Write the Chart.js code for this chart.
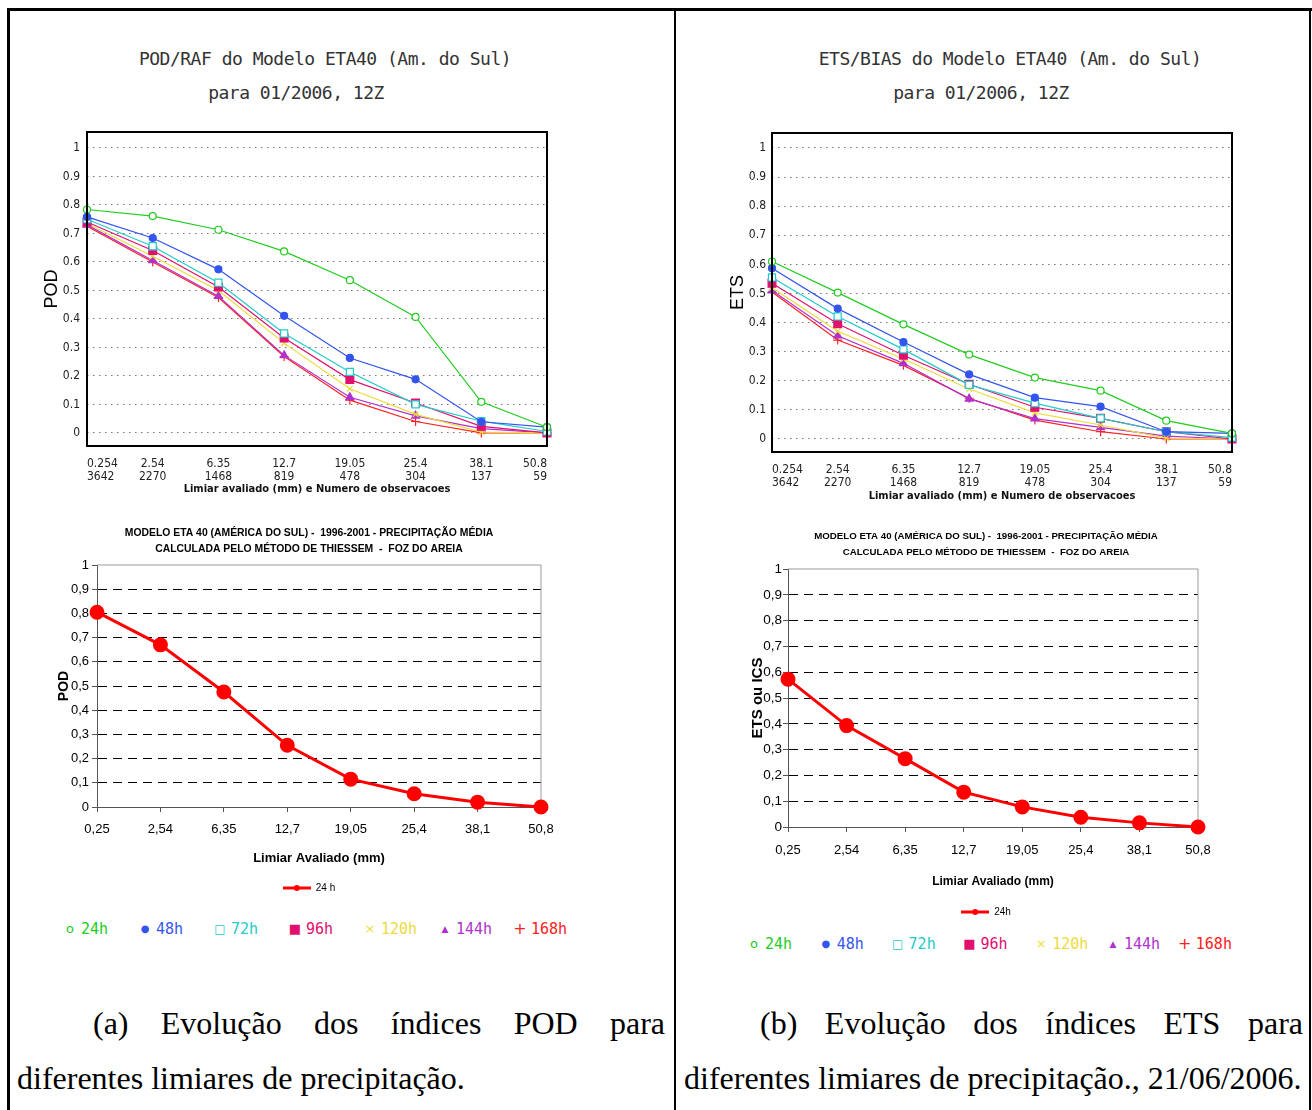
<!DOCTYPE html>
<html><head><meta charset="utf-8">
<script src="https://cdn.jsdelivr.net/npm/chart.js@4.4.1/dist/chart.umd.min.js"></script>
<style>
html,body{margin:0;padding:0;background:#fff;}
body{width:1312px;height:1110px;overflow:hidden;position:relative;}
canvas{position:absolute;}
.line{position:absolute;background:#000;}
.ttl{position:absolute;font-family:"DejaVu Sans Mono",monospace;font-size:18px;letter-spacing:-0.5px;color:#333;white-space:pre;transform:translateX(-50%);line-height:20px;}
.cap{position:absolute;font-family:"Liberation Serif","Times New Roman",serif;font-size:32px;line-height:40px;color:#000;white-space:nowrap;}
.just{text-align:justify;text-align-last:justify;white-space:normal;}
.lg{position:absolute;font-family:"DejaVu Sans Mono",monospace;font-size:15px;line-height:18px;white-space:pre;}
.sym{position:absolute;font-family:"DejaVu Sans",sans-serif;line-height:18px;white-space:pre;transform:translateX(-50%);}
</style></head><body>

<div class="line" style="left:7px;top:8px;width:1305px;height:3px"></div>
<div class="line" style="left:7px;top:8px;width:3px;height:1102px"></div>
<div class="line" style="left:674px;top:8px;width:2px;height:1102px"></div>
<div class="line" style="left:1309px;top:8px;width:2px;height:1102px"></div>

<div class="ttl" style="left:325px;top:49px">POD/RAF do Modelo ETA40 (Am. do Sul)</div>
<div class="ttl" style="left:296px;top:83px">para 01/2006, 12Z</div>
<div class="ttl" style="left:1010px;top:49px">ETS/BIAS do Modelo ETA40 (Am. do Sul)</div>
<div class="ttl" style="left:981px;top:83px">para 01/2006, 12Z</div>

<canvas id="podTop" width="550" height="388" style="left:20px;top:112px"></canvas>
<canvas id="etsTop" width="560" height="392" style="left:700px;top:113px"></canvas>
<canvas id="podBottom" width="538" height="383" style="left:40px;top:520px"></canvas>
<canvas id="etsBottom" width="512" height="407" style="left:730px;top:520px"></canvas>

<div id="legA"></div>
<div id="legB"></div>

<div class="cap just" style="left:93px;top:1003px;width:572px">(a) Evolução dos índices POD para</div>
<div class="cap" style="left:17px;top:1058px">diferentes limiares de precipitação.</div>
<div class="cap just" style="left:760px;top:1003px;width:543px">(b) Evolução dos índices ETS para</div>
<div class="cap" style="left:684px;top:1058px">diferentes limiares de precipitação., 21/06/2006.</div>

<script>
// ---------- data ----------
const thresholds = ['0.254','2.54','6.35','12.7','19.05','25.4','38.1','50.8'];
const observations = ['3642','2270','1468','819','478','304','137','59'];
const thresholdsComma = ['0,25','2,54','6,35','12,7','19,05','25,4','38,1','50,8'];
const leadTimes = ['24h','48h','72h','96h','120h','144h','168h'];
const yTickValues = [0,0.1,0.2,0.3,0.4,0.5,0.6,0.7,0.8,0.9,1];

const pod24  = [0.784,0.761,0.713,0.637,0.536,0.407,0.109,0.020];
const pod48  = [0.758,0.684,0.574,0.411,0.263,0.188,0.039,0.020];
const pod72  = [0.750,0.655,0.527,0.349,0.214,0.100,0.041,0.005];
const pod96  = [0.740,0.640,0.512,0.333,0.187,0.105,0.023,0.000];
const pod120 = [0.735,0.620,0.500,0.315,0.155,0.065,0.003,0.000];
const pod144 = [0.730,0.605,0.480,0.272,0.125,0.060,0.015,0.000];
const pod168 = [0.725,0.600,0.475,0.268,0.115,0.040,0.000,0.000];

const ets24  = [0.610,0.503,0.394,0.290,0.211,0.166,0.063,0.019];
const ets48  = [0.587,0.448,0.333,0.222,0.142,0.111,0.025,0.019];
const ets72  = [0.555,0.421,0.308,0.186,0.123,0.071,0.025,0.005];
const ets96  = [0.535,0.396,0.288,0.188,0.109,0.071,0.025,0.000];
const ets120 = [0.520,0.370,0.275,0.172,0.090,0.048,0.003,0.000];
const ets144 = [0.510,0.355,0.260,0.138,0.070,0.040,0.010,0.000];
const ets168 = [0.505,0.340,0.253,0.140,0.065,0.025,0.000,0.000];

const podMean24 = [0.805,0.670,0.475,0.255,0.115,0.055,0.020,0.000];
const etsMean24 = [0.573,0.393,0.265,0.135,0.078,0.038,0.016,0.000];

const xTitleTop = 'Limiar avaliado (mm) e Numero de observacoes';
const xTitleBottom = 'Limiar Avaliado (mm)';
const bottomTitle = ['MODELO ETA 40 (AMÉRICA DO SUL) -  1996-2001 - PRECIPITAÇÃO MÉDIA',
                     'CALCULADA PELO MÉTODO DE THIESSEM  -  FOZ DO AREIA'];

// ---------- styles ----------
const seriesColors = ['#22cc22','#3355ee','#22cccc','#e0106e','#ecdc3c','#b030d0','#ff2020'];
const markerStyles = ['circle','circle','rect','rect','crossRot','triangle','cross'];
const markerRadii  = [3.5,3.5,5,5.5,4,4.5,4.5];
const markerHollow = [true,false,true,false,false,false,false];
const legendSymbols = ['o','●','□','■','×','▲','+'];
const legendSymSize = [13,10,12,13,13,9,16];

const NARROW = '"Liberation Sans Narrow","DejaVu Sans Condensed","Liberation Sans",sans-serif';
const CONDB = '"DejaVu Sans Condensed","Liberation Sans Narrow","DejaVu Sans",sans-serif';
const ARIAL = '"Liberation Sans",Arial,sans-serif';
Chart.defaults.font.family = ARIAL;

const framePlugin = {
  id: 'frame',
  beforeDatasetsDraw(chart, args, o) { if (o.layer === 'before') drawFrame(chart, o); },
  afterDatasetsDraw(chart, args, o) { if (o.layer === 'after') drawFrame(chart, o); }
};
function drawFrame(chart, o) {
  const {ctx, chartArea: a} = chart;
  ctx.save();
  ctx.strokeStyle = o.color; ctx.lineWidth = o.width; ctx.setLineDash([]);
  ctx.beginPath();
  if (o.sides.includes('top'))    { ctx.moveTo(a.left, a.top); ctx.lineTo(a.right, a.top); }
  if (o.sides.includes('right'))  { ctx.moveTo(a.right, a.top); ctx.lineTo(a.right, a.bottom); }
  if (o.sides.includes('bottom')) { ctx.moveTo(a.left, a.bottom); ctx.lineTo(a.right, a.bottom); }
  if (o.sides.includes('left'))   { ctx.moveTo(a.left, a.top); ctx.lineTo(a.left, a.bottom); }
  ctx.stroke();
  if (o.sides.length === 4) ctx.strokeRect(a.left, a.top, a.right - a.left, a.bottom - a.top);
  ctx.restore();
}

function topChart(id, series, yTitle, cfg) {
  return new Chart(document.getElementById(id), {
    type: 'line',
    data: {
      labels: thresholds,
      datasets: series.map((d, i) => ({
        label: leadTimes[i], data: d,
        borderColor: seriesColors[i], backgroundColor: seriesColors[i],
        borderWidth: 1.2, tension: 0,
        pointStyle: markerStyles[i], pointRadius: markerRadii[i], pointHoverRadius: markerRadii[i],
        pointBackgroundColor: markerHollow[i] ? '#ffffff' : seriesColors[i],
        pointBorderColor: seriesColors[i], pointBorderWidth: 1.2
      }))
    },
    options: {
      responsive: false, animation: false, events: [],
      layout: {padding: {top: 20, right: cfg.padRight, left: 0, bottom: 0}},
      plugins: {
        legend: {display: false}, title: {display: false}, tooltip: {enabled: false},
        frame: {color: '#000', width: 2, sides: ['top','right','bottom','left'], layer: 'after'}
      },
      scales: {
        x: {
          type: 'category', offset: false,
          afterFit: s => { s.height = cfg.xHeight; },
          grid: {display: false}, border: {display: false},
          ticks: {align: 'inner', autoSkip: false, maxRotation: 0, padding: 3.4, color: '#222',
                  font: {family: NARROW, size: 12, lineHeight: 1.1},
                  callback: (v, i) => [thresholds[i], observations[i]]},
          title: {display: true, text: xTitleTop, color: '#111',
                  font: {family: CONDB, size: 11, weight: 'bold'}, padding: {top: 0, bottom: cfg.xTitlePad}}
        },
        y: {
          min: cfg.yMin, max: cfg.yMax,
          afterBuildTicks: s => { s.ticks = yTickValues.map(v => ({value: v})); },
          afterFit: s => { s.width = cfg.yWidth; },
          grid: {color: '#777', lineWidth: 1, drawTicks: false},
          border: {display: false, dash: [1.5, 4.5]},
          ticks: {padding: cfg.yTickPad, color: '#222', font: {family: NARROW, size: 12}, callback: v => String(v)},
          title: {display: true, text: yTitle, color: '#000', font: {family: ARIAL, size: 18},
                  padding: {top: cfg.yTitlePad, bottom: 0}}
        }
      }
    },
    plugins: [framePlugin]
  });
}

function legendGlyph(color) {
  const c = document.createElement('canvas'); c.width = 28; c.height = 10;
  const g = c.getContext('2d');
  g.strokeStyle = color; g.lineWidth = 3;
  g.beginPath(); g.moveTo(0, 5); g.lineTo(28, 5); g.stroke();
  g.fillStyle = color; g.beginPath(); g.arc(14, 5, 3, 0, Math.PI * 2); g.fill();
  return c;
}

function bottomChart(id, data, label, yTitle, cfg) {
  return new Chart(document.getElementById(id), {
    type: 'line',
    data: {
      labels: thresholdsComma,
      datasets: [{
        label: label, data: data, borderColor: '#ff0000', backgroundColor: '#ff0000',
        borderWidth: 3, tension: 0, pointStyle: 'circle', pointRadius: 6, pointHoverRadius: 6,
        pointBackgroundColor: '#ff0000', pointBorderColor: '#ff0000', clip: false, yAxisID: 'y'
      }]
    },
    options: {
      responsive: false, animation: false, events: [],
      layout: {padding: 0},
      plugins: {
        tooltip: {enabled: false},
        title: {display: true, text: bottomTitle, color: '#000',
                font: {family: ARIAL, size: cfg.titleSize, weight: 'bold', lineHeight: 16 / cfg.titleSize},
                padding: {top: cfg.titleTop, bottom: cfg.titleBottom}},
        legend: {
          display: true, position: 'bottom',
          labels: {
            usePointStyle: true, pointStyleWidth: 28, boxHeight: 10, padding: 6, color: '#000',
            font: {family: ARIAL, size: 10},
            generateLabels: ch => ch.data.datasets.map((d, i) => ({
              text: d.label, pointStyle: legendGlyph(d.borderColor), fillStyle: d.borderColor,
              strokeStyle: d.borderColor, lineWidth: 0, datasetIndex: i, hidden: false, fontColor: '#000'
            }))
          }
        },
        frame: {color: '#9a9a9a', width: 1, sides: ['top','right'], layer: 'before'}
      },
      scales: {
        x: {
          offset: false,
          afterFit: s => { s.height = cfg.xHeight; },
          grid: {drawOnChartArea: false, drawTicks: true, tickLength: 5, color: '#555'},
          border: {display: true, color: '#555', width: 1},
          ticks: {padding: cfg.xTickPad, color: '#000', maxRotation: 0, autoSkip: false, font: {family: ARIAL, size: 13}},
          title: {display: true, text: xTitleBottom, color: '#000',
                  font: {family: ARIAL, size: cfg.xTitleSize, weight: 'bold'}, padding: {top: 0, bottom: cfg.xTitlePad}}
        },
        y: {
          min: 0, max: 1,
          afterBuildTicks: s => { s.ticks = yTickValues.map(v => ({value: v})); },
          afterFit: s => { s.width = cfg.yWidth; },
          grid: {color: c => (c.tick && c.tick.value > 0 && c.tick.value < 1) ? '#000' : 'rgba(0,0,0,0)',
                 tickColor: '#555', tickLength: 5, lineWidth: 1},
          border: {display: true, color: '#555', width: 1, dash: [9, 6]},
          ticks: {padding: cfg.yTickPad, color: '#000', font: {family: ARIAL, size: cfg.yTickSize},
                  callback: v => String(v).replace('.', ',')},
          title: {display: true, text: yTitle, color: '#000',
                  font: {family: ARIAL, size: cfg.yTitleSize, weight: 'bold'}, padding: {top: cfg.yTitlePad, bottom: 0}}
        },
        y2: {
          type: 'linear', position: 'right', display: true,
          afterFit: s => { s.width = cfg.rightWidth; },
          ticks: {display: false}, grid: {display: false}, border: {display: false}
        }
      }
    },
    plugins: [framePlugin]
  });
}

topChart('podTop', [pod24, pod48, pod72, pod96, pod120, pod144, pod168], 'POD',
  {padRight: 23, xHeight: 54, xTitlePad: 4.4, yMin: -0.046, yMax: 1.056, yWidth: 67, yTickPad: 7, yTitlePad: 21.2});
topChart('etsTop', [ets24, ets48, ets72, ets96, ets120, ets144, ets168], 'ETS',
  {padRight: 28, xHeight: 53, xTitlePad: 2.4, yMin: -0.0447, yMax: 1.0515, yWidth: 72, yTickPad: 6, yTitlePad: 27.2});

bottomChart('podBottom', podMean24, '24 h', 'POD',
  {titleSize: 10.4, titleTop: 5, titleBottom: 8, xHeight: 70, xTickPad: 9.2, xTitleSize: 13, xTitlePad: 11.2,
   yWidth: 57, yTickPad: 3, yTickSize: 13, yTitleSize: 14, yTitlePad: 15.6, rightWidth: 37});
bottomChart('etsBottom', etsMean24, '24h', 'ETS ou ICS',
  {titleSize: 9.7, titleTop: 8, titleBottom: 9, xHeight: 74, xTickPad: 10.2, xTitleSize: 12, xTitlePad: 12.2,
   yWidth: 58, yTickPad: 1, yTickSize: 13.5, yTitleSize: 15, yTitlePad: 19, rightWidth: 44});

// colored lead-time legends
function buildLegend(el, x0, step, y) {
  leadTimes.forEach((t, i) => {
    const s = document.createElement('div');
    s.className = 'sym';
    s.style.left = (x0 + step * i + 4) + 'px';
    s.style.top = (y - 9) + 'px';
    s.style.fontSize = legendSymSize[i] + 'px';
    s.style.color = seriesColors[i];
    s.textContent = legendSymbols[i];
    el.appendChild(s);
    const d = document.createElement('div');
    d.className = 'lg';
    d.style.left = (x0 + step * i + 15) + 'px';
    d.style.top = (y - 9) + 'px';
    d.style.color = seriesColors[i];
    d.textContent = t;
    el.appendChild(d);
  });
}
buildLegend(document.getElementById('legA'), 66, 75, 929);
buildLegend(document.getElementById('legB'), 750, 71.8, 944);
</script>
</body></html>
